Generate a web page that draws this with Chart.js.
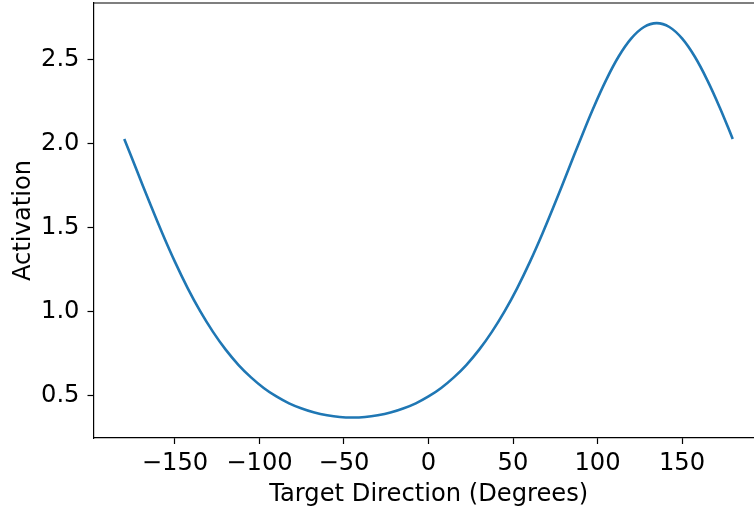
<!DOCTYPE html>
<html>
<head>
<meta charset="utf-8">
<script src="https://cdn.jsdelivr.net/npm/chart.js@4/dist/chart.umd.min.js"></script>
<style>
html,body{margin:0;padding:0;background:#fff;overflow:hidden;}
#wrap{width:754px;height:512px;overflow:hidden;}
</style>
</head>
<body>
<div id="wrap"><canvas id="c" width="764" height="512"></canvas></div>
<script>
const directions = [-180,-172.5,-165,-157.5,-150,-142.5,-135,-127.5,-120,-112.5,-105,-97.5,-90,-82.5,-75,-67.5,-60,-52.5,-45,-37.5,-30,-22.5,-15,-7.5,0,7.5,15,22.5,30,37.5,45,52.5,60,67.5,75,82.5,90,97.5,105,112.5,120,127.5,135,142.5,150,157.5,165,172.5,180];
const activation = [2.028,1.838,1.649,1.466,1.295,1.139,1.000,0.878,0.772,0.682,0.607,0.544,0.493,0.452,0.421,0.397,0.381,0.371,0.368,0.371,0.381,0.397,0.421,0.452,0.493,0.544,0.607,0.682,0.772,0.878,1.000,1.139,1.295,1.466,1.649,1.838,2.028,2.211,2.377,2.519,2.627,2.695,2.718,2.695,2.627,2.519,2.377,2.211,2.028];
const xTicks = [-150,-100,-50,0,50,100,150];
const yTicks = [0.5,1.0,1.5,2.0,2.5];
const xLabel = 'Target Direction (Degrees)';
const yLabel = 'Activation';

const FONT = 'DejaVu Sans';
const FS = 24.2;
Chart.defaults.font.family = FONT;
Chart.defaults.color = '#000';

const topBorder = {
  id: 'topBorder',
  afterDraw(chart) {
    const {ctx, chartArea} = chart;
    ctx.save();
    ctx.strokeStyle = '#000';
    ctx.lineWidth = 1.2;
    ctx.beginPath();
    ctx.moveTo(chartArea.left, chartArea.top);
    ctx.lineTo(chartArea.right, chartArea.top);
    ctx.stroke();
    ctx.restore();
  }
};

new Chart(document.getElementById('c'), {
  type: 'line',
  data: {
    datasets: [{
      data: directions.map((d, i) => ({x: d, y: activation[i]})),
      borderColor: '#1f77b4',
      borderWidth: 2.6,
      pointRadius: 0,
      fill: false,
      tension: 0.4
    }]
  },
  options: {
    responsive: false,
    animation: false,
    devicePixelRatio: 1,
    layout: {padding: {top: 3, right: 0, left: 0, bottom: 0}},
    plugins: {legend: {display: false}, tooltip: {enabled: false}},
    scales: {
      x: {
        type: 'linear',
        min: -198.2,
        max: 198.5,
        afterBuildTicks: s => { s.ticks = xTicks.map(v => ({value: v})); },
        afterFit: s => { s.height = 74; s.paddingLeft = 0; s.paddingRight = 0; },
        ticks: {
          font: {size: FS},
          padding: 5,
          maxRotation: 0,
          callback: v => String(v).replace('-', '\u2212')
        },
        grid: {display: true, drawOnChartArea: false, tickLength: 6, tickWidth: 1.2, color: '#000'},
        border: {display: true, color: '#000', width: 1.2},
        title: {display: true, text: xLabel, font: {size: FS}, padding: {top: 0, bottom: 3}}
      },
      y: {
        type: 'linear',
        min: 0.2455,
        max: 2.838,
        afterBuildTicks: s => { s.ticks = yTicks.map(v => ({value: v})); },
        afterFit: s => { s.width = 93.5; s.paddingTop = 0; s.paddingBottom = 0; },
        ticks: {
          font: {size: FS},
          padding: 8,
          callback: v => Number(v).toFixed(1)
        },
        grid: {display: true, drawOnChartArea: false, tickLength: 6, tickWidth: 1.2, color: '#000'},
        border: {display: true, color: '#000', width: 1.2},
        title: {display: true, text: yLabel, font: {size: FS}, padding: {top: 9, bottom: 0}}
      }
    }
  },
  plugins: [topBorder]
});
</script>
</body>
</html>
